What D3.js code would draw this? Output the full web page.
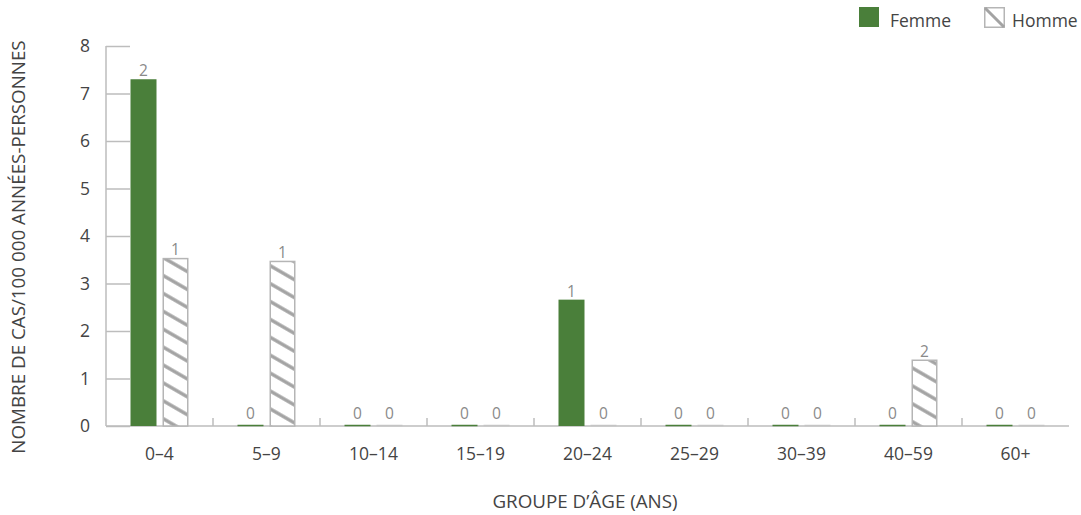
<!DOCTYPE html>
<html>
<head>
<meta charset="utf-8">
<script src="https://cdn.jsdelivr.net/npm/d3@7"></script>
<style>
  html, body { margin: 0; padding: 0; background: #fff; }
  svg { display: block; font-family: "Open Sans", "DejaVu Sans", sans-serif; }
</style>
</head>
<body>
<svg id="chart" width="1081" height="515"></svg>
<script>
// Age groups and incidence rates (cases per 100 000 person-years)
const ageGroups = ["0–4", "5–9", "10–14", "15–19", "20–24", "25–29", "30–39", "40–59", "60+"];
const femmeRates = [7.3, 0, 0, 0, 2.66, 0, 0, 0, 0];
const hommeRates = [3.54, 3.48, 0, 0, 0, 0, 0, 1.4, 0];
// Case counts shown above each bar
const femmeCounts = [2, 0, 0, 0, 1, 0, 0, 0, 0];
const hommeCounts = [1, 1, 0, 0, 0, 0, 0, 2, 0];
const yTicks = [0, 1, 2, 3, 4, 5, 6, 7, 8];
const seriesNames = ["Femme", "Homme"];

const svg = d3.select("#chart");
const green = "#4a7f3a";
const axisGrey = "#bdbdbd";
const textGrey = "#444";

const defs = svg.append("defs");
const pat = defs.append("pattern")
  .attr("id", "hatch")
  .attr("patternUnits", "userSpaceOnUse")
  .attr("width", 16)
  .attr("height", 15.5)
  .attr("patternTransform", "rotate(30)");
pat.append("rect").attr("width", 16).attr("height", 15.5).attr("fill", "#fff");
pat.append("line")
  .attr("x1", 0).attr("x2", 16).attr("y1", 2).attr("y2", 2)
  .attr("stroke", "#a3a3a3").attr("stroke-width", 3.4);

const x0 = 106, x1 = 1069, yTop = 46, yBase = 426;

const x = d3.scaleBand().domain(ageGroups).range([x0, x1]).paddingInner(0).paddingOuter(0);
const y = d3.scaleLinear().domain([0, 8]).range([yBase, yTop]);

const barW = 26, gap = 6;

// y axis: ticks pointing inward
const yAxis = d3.axisRight(y).tickValues(yTicks).tickSize(24).tickFormat("");
const gy = svg.append("g").attr("transform", `translate(${x0},0)`).call(yAxis);
gy.select(".domain").attr("stroke", axisGrey).attr("stroke-width", 1.5).attr("d", `M0,${yTop}V${yBase}`);
gy.selectAll(".tick line").attr("stroke", axisGrey).attr("stroke-width", 1.5);

svg.append("g").selectAll("text").data(yTicks).join("text")
  .attr("x", 85).attr("y", d => y(d))
  .attr("dy", "0.35em")
  .attr("text-anchor", "middle")
  .attr("fill", textGrey)
  .attr("font-size", 17.5)
  .text(d => d);

// x axis: category boundaries as short ticks pointing up
const boundaries = ageGroups.map((g, i) => x(g) + x.bandwidth()).slice(0, -1);
svg.append("line")
  .attr("x1", x0).attr("x2", x1).attr("y1", yBase).attr("y2", yBase)
  .attr("stroke", axisGrey).attr("stroke-width", 1.5);
svg.append("g").selectAll("line").data(boundaries).join("line")
  .attr("x1", d => d).attr("x2", d => d)
  .attr("y1", yBase).attr("y2", yBase - 8)
  .attr("stroke", axisGrey).attr("stroke-width", 1.5);

svg.append("g").selectAll("text").data(ageGroups).join("text")
  .attr("x", d => x(d) + x.bandwidth() / 2)
  .attr("y", 460)
  .attr("text-anchor", "middle")
  .attr("fill", textGrey)
  .attr("font-size", 17.5)
  .text(d => d);

// bars
const rows = ageGroups.map((g, i) => ({
  g, f: femmeRates[i], h: hommeRates[i], fc: femmeCounts[i], hc: hommeCounts[i]
}));

const bars = svg.append("g");
rows.forEach(r => {
  const cx = x(r.g) + x.bandwidth() / 2;
  const fx = cx - gap / 2 - barW;
  const hx = cx + gap / 2;
  // Femme
  if (r.f > 0) {
    bars.append("rect").attr("x", fx).attr("y", y(r.f)).attr("width", barW)
      .attr("height", yBase - y(r.f)).attr("fill", green);
  } else {
    bars.append("line").attr("x1", fx).attr("x2", fx + barW)
      .attr("y1", yBase - 0.5).attr("y2", yBase - 0.5)
      .attr("stroke", green).attr("stroke-width", 1.5);
  }
  // Homme
  if (r.h > 0) {
    bars.append("rect").attr("x", hx + 0.75).attr("y", y(r.h) + 0.75).attr("width", barW - 1.5)
      .attr("height", yBase - y(r.h) - 0.75).attr("fill", "url(#hatch)")
      .attr("stroke", "#b5b5b5").attr("stroke-width", 1.5);
  } else {
    bars.append("line").attr("x1", hx).attr("x2", hx + barW)
      .attr("y1", yBase - 0.5).attr("y2", yBase - 0.5)
      .attr("stroke", "#c4c4c4").attr("stroke-width", 1.5);
  }
  // count labels
  [[fx, r.f, r.fc], [hx, r.h, r.hc]].forEach(([bx, v, c]) => {
    svg.append("text")
      .attr("x", bx + barW / 2)
      .attr("y", y(v) - (v > 0 ? 3 : 7))
      .attr("text-anchor", "middle")
      .attr("fill", "#8a8a8a")
      .attr("font-size", 15.5)
      .text(c);
  });
});

// axis titles
svg.append("text")
  .attr("x", 585).attr("y", 508)
  .attr("text-anchor", "middle")
  .attr("fill", textGrey)
  .attr("font-size", 18.8)
  .text("GROUPE D’ÂGE (ANS)");

svg.append("text")
  .attr("transform", "translate(25,247) rotate(-90)")
  .attr("text-anchor", "middle")
  .attr("fill", textGrey)
  .attr("font-size", 18.8)
  .text("NOMBRE DE CAS/100 000 ANNÉES-PERSONNES");

// legend
const leg = svg.append("g");
leg.append("rect").attr("x", 859).attr("y", 7).attr("width", 20).attr("height", 20).attr("fill", green);
leg.append("text").attr("x", 890).attr("y", 27).attr("fill", textGrey).attr("font-size", 17.5).text(seriesNames[0]);
leg.append("rect").attr("x", 984.75).attr("y", 7.75).attr("width", 19.5).attr("height", 19.5)
  .attr("fill", "#fff").attr("stroke", "#b5b5b5").attr("stroke-width", 1.5);
leg.append("line").attr("x1", 985).attr("y1", 8).attr("x2", 1004).attr("y2", 27)
  .attr("stroke", "#a3a3a3").attr("stroke-width", 3);
leg.append("text").attr("x", 1012).attr("y", 27).attr("fill", textGrey).attr("font-size", 17.5).text(seriesNames[1]);
</script>
</body>
</html>
